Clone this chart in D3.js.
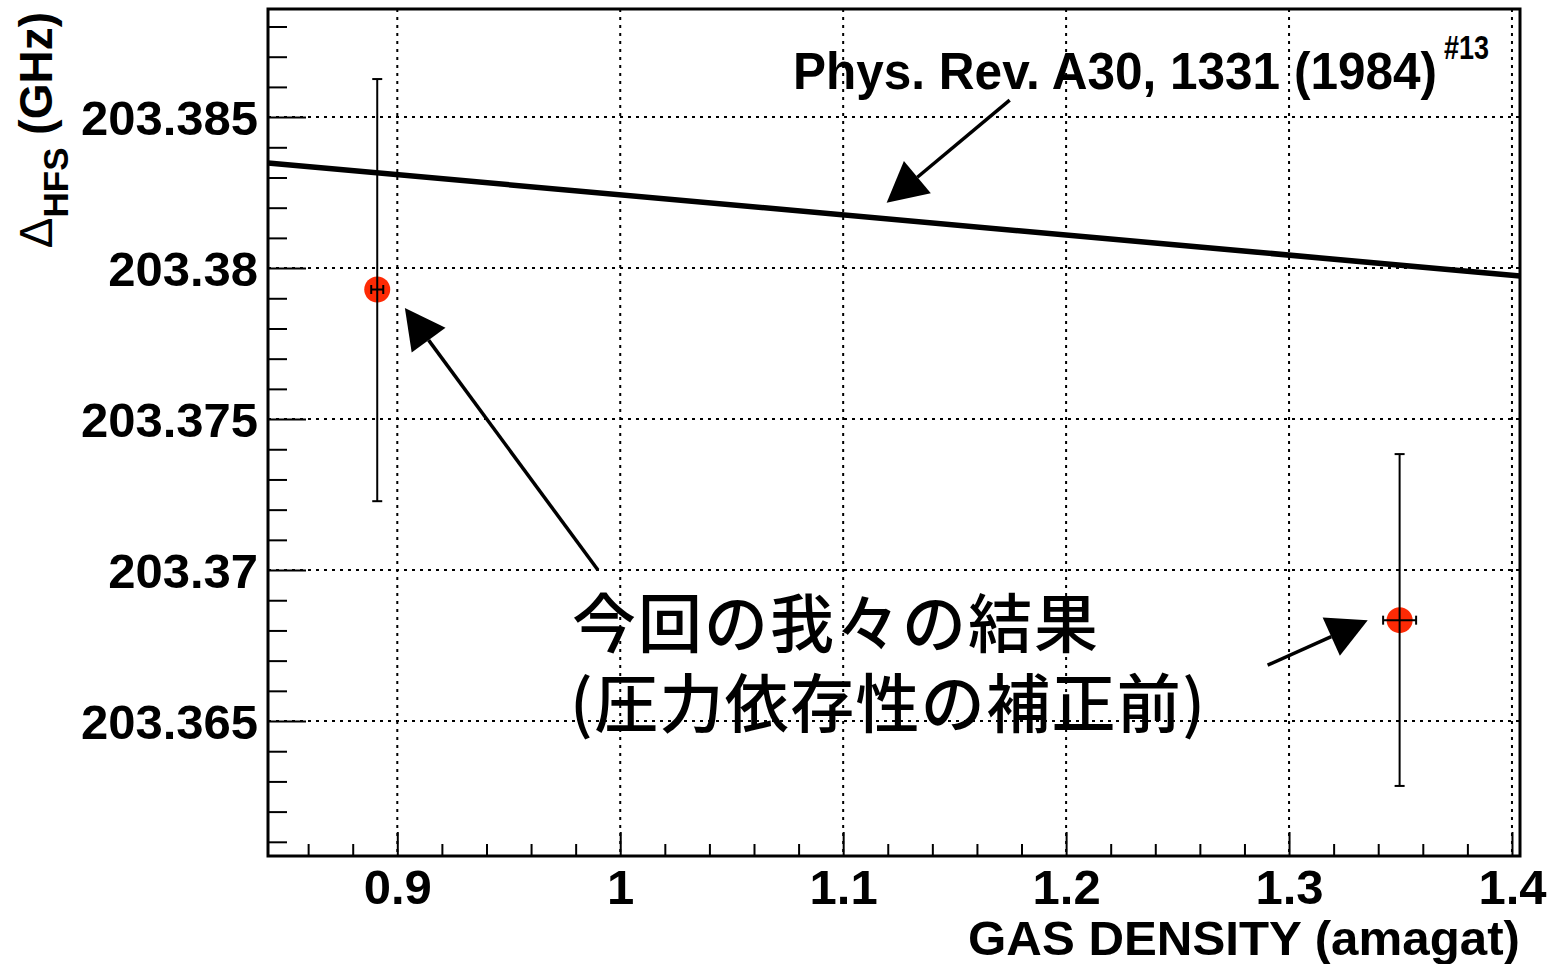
<!DOCTYPE html>
<html>
<head>
<meta charset="utf-8">
<script src="https://cdn.jsdelivr.net/npm/d3@7"></script>
<style>
  body { margin: 0; background: #fff; }
  svg { display: block; }
  .tick text { font-family: "Liberation Sans", Arial, sans-serif; font-weight: bold; font-size: 49px; fill: #000; }
</style>
</head>
<body>
<script>
// measured points (gas density in amagat, HFS in GHz)
const density = [0.8910, 1.3496];
const hfs = [203.37929, 203.36834];
const densityErr = [0.0027, 0.0074];
const hfsErrUp = [0.00697, 0.00550];
const hfsErrDown = [0.00701, 0.00549];

// reference line from Phys. Rev. A30, 1331 (1984)
const refDensity = [0.842, 1.4036];
const refHfs = [203.38348, 203.37974];

// tick values
const xMajor = [0.9, 1.0, 1.1, 1.2, 1.3, 1.4];
const xLabels = ["0.9", "1", "1.1", "1.2", "1.3", "1.4"];
const xMinor = [0.86, 0.88, 0.92, 0.94, 0.96, 0.98, 1.02, 1.04, 1.06, 1.08, 1.12, 1.14, 1.16, 1.18,
                1.22, 1.24, 1.26, 1.28, 1.32, 1.34, 1.36, 1.38];
const yMajor = [203.365, 203.37, 203.375, 203.38, 203.385];
const yLabels = ["203.365", "203.37", "203.375", "203.38", "203.385"];
const yMinor = [203.361, 203.362, 203.363, 203.364, 203.366, 203.367, 203.368, 203.369,
                203.371, 203.372, 203.373, 203.374, 203.376, 203.377, 203.378, 203.379,
                203.381, 203.382, 203.383, 203.384, 203.386, 203.387, 203.388];

// annotation arrows [x1, y1, x2(tip), y2(tip)] in data units
const arrows = [
  [1.1747, 203.38556, 1.1195, 203.38216],
  [0.9900, 203.37000, 0.9034, 203.37868],
  [1.2904, 203.36685, 1.3353, 203.36834]
];

const W = 1547, H = 964;
const margin = {top: 9, right: 27, bottom: 108, left: 268};
const width = W - margin.left - margin.right;
const height = H - margin.top - margin.bottom;

const xScale = d3.scaleLinear().domain([0.842, 1.4036]).range([0, width]);
const yScale = d3.scaleLinear().domain([203.36053, 203.38858]).range([height, 0]);

const svg = d3.select("body").append("svg")
  .attr("width", W)
  .attr("height", H);

const g = svg.append("g")
  .attr("transform", `translate(${margin.left},${margin.top})`);

// grid
g.selectAll(".gx").data(xMajor).enter().append("line")
  .attr("x1", d => xScale(d)).attr("x2", d => xScale(d))
  .attr("y1", 0).attr("y2", height)
  .attr("stroke", "#000").attr("stroke-width", 2).attr("stroke-dasharray", "3,5");
g.selectAll(".gy").data(yMajor).enter().append("line")
  .attr("x1", 0).attr("x2", width)
  .attr("y1", d => yScale(d)).attr("y2", d => yScale(d))
  .attr("stroke", "#000").attr("stroke-width", 2).attr("stroke-dasharray", "3,5");

// axes, ticks pointing inside
const xAxis = g.append("g")
  .attr("transform", `translate(0,${height})`)
  .call(d3.axisBottom(xScale).tickValues(xMajor).tickSize(-24).tickPadding(13)
    .tickFormat((d, i) => xLabels[i]));
g.append("g")
  .attr("transform", `translate(0,${height})`)
  .call(d3.axisBottom(xScale).tickValues(xMinor).tickSize(-12).tickFormat(""));
const yAxis = g.append("g")
  .call(d3.axisLeft(yScale).tickValues(yMajor).tickSize(-38).tickPadding(10)
    .tickFormat((d, i) => yLabels[i]));
g.append("g")
  .call(d3.axisLeft(yScale).tickValues(yMinor).tickSize(-19).tickFormat(""));
g.selectAll(".domain").remove();
g.selectAll(".tick line").attr("stroke", "#000").attr("stroke-width", 2);
xAxis.selectAll(".tick text").attr("dy", "0.72em");
yAxis.selectAll(".tick text").attr("dy", "0.36em");

// reference line
const refLine = d3.line()
  .x((d, i) => xScale(refDensity[i]))
  .y(d => yScale(d));
g.append("path")
  .datum(refHfs)
  .attr("d", refLine)
  .attr("fill", "none")
  .attr("stroke", "#000")
  .attr("stroke-width", 5.5);

// markers
g.selectAll(".pt").data(density).enter().append("circle")
  .attr("cx", d => xScale(d))
  .attr("cy", (d, i) => yScale(hfs[i]))
  .attr("r", 13)
  .attr("fill", "#fe2a05");

// error bars
const eb = g.append("g").attr("stroke", "#000").attr("stroke-width", 2);
density.forEach((d, i) => {
  const cx = xScale(d), cy = yScale(hfs[i]);
  const yt = yScale(hfs[i] + hfsErrUp[i]), yb = yScale(hfs[i] - hfsErrDown[i]);
  const xl = xScale(d - densityErr[i]), xr = xScale(d + densityErr[i]);
  eb.append("line").attr("x1", cx).attr("x2", cx).attr("y1", yt).attr("y2", yb);
  eb.append("line").attr("x1", cx - 5).attr("x2", cx + 5).attr("y1", yt).attr("y2", yt);
  eb.append("line").attr("x1", cx - 5).attr("x2", cx + 5).attr("y1", yb).attr("y2", yb);
  eb.append("line").attr("x1", xl).attr("x2", xr).attr("y1", cy).attr("y2", cy);
  eb.append("line").attr("x1", xl).attr("x2", xl).attr("y1", cy - 4.5).attr("y2", cy + 4.5);
  eb.append("line").attr("x1", xr).attr("x2", xr).attr("y1", cy - 4.5).attr("y2", cy + 4.5);
});

// frame
g.append("rect")
  .attr("width", width).attr("height", height)
  .attr("fill", "none").attr("stroke", "#000").attr("stroke-width", 3);

// arrows
arrows.forEach(a => {
  const x1 = xScale(a[0]), y1 = yScale(a[1]), x2 = xScale(a[2]), y2 = yScale(a[3]);
  const ang = Math.atan2(y2 - y1, x2 - x1);
  const hl = 40, hw = 21;
  const bx = x2 - hl * Math.cos(ang), by = y2 - hl * Math.sin(ang);
  g.append("line").attr("x1", x1).attr("y1", y1).attr("x2", bx).attr("y2", by)
    .attr("stroke", "#000").attr("stroke-width", 3.5);
  const px = -Math.sin(ang) * hw, py = Math.cos(ang) * hw;
  g.append("path")
    .attr("d", `M${x2},${y2}L${bx + px},${by + py}L${bx - px},${by - py}Z`)
    .attr("fill", "#000");
});

// reference label, superscript as a tspan of the same text
const ref = svg.append("text")
  .attr("font-family", "Liberation Sans, Arial, sans-serif")
  .attr("font-weight", "bold");
ref.append("tspan")
  .attr("x", 793).attr("y", 89).attr("font-size", 52)
  .attr("textLength", 644).attr("lengthAdjust", "spacingAndGlyphs")
  .text("Phys. Rev. A30, 1331 (1984)");
ref.append("tspan")
  .attr("x", 1444).attr("y", 59).attr("font-size", 33)
  .attr("textLength", 45).attr("lengthAdjust", "spacingAndGlyphs")
  .text("#13");

// our result label, two lines in one text
const ours = svg.append("text")
  .attr("font-family", "Noto Sans CJK JP, sans-serif")
  .attr("font-weight", 500)
  .attr("font-size", 64);
ours.append("tspan")
  .attr("x", 572).attr("y", 647)
  .attr("textLength", 526).attr("lengthAdjust", "spacing")
  .text("今回の我々の結果");
ours.append("tspan")
  .attr("x", 570).attr("y", 727)
  .attr("textLength", 635).attr("lengthAdjust", "spacing")
  .text("(圧力依存性の補正前)");

// axis titles
svg.append("text")
  .attr("x", 1520).attr("y", 955)
  .attr("text-anchor", "end")
  .attr("font-family", "Liberation Sans, Arial, sans-serif")
  .attr("font-weight", "bold").attr("font-size", 49)
  .attr("textLength", 552).attr("lengthAdjust", "spacingAndGlyphs")
  .text("GAS DENSITY (amagat)");

const yt = svg.append("text")
  .attr("transform", "translate(52,12) rotate(-90)")
  .attr("text-anchor", "end")
  .attr("font-family", "Liberation Sans, Arial, sans-serif")
  .attr("font-weight", "bold").attr("font-size", 46);
yt.append("tspan").attr("font-weight", "normal").text("Δ");
yt.append("tspan").attr("font-size", 35).attr("dy", 16).text("HFS");
yt.append("tspan").attr("dy", -16).text(" (GHz)");
</script>
</body>
</html>
